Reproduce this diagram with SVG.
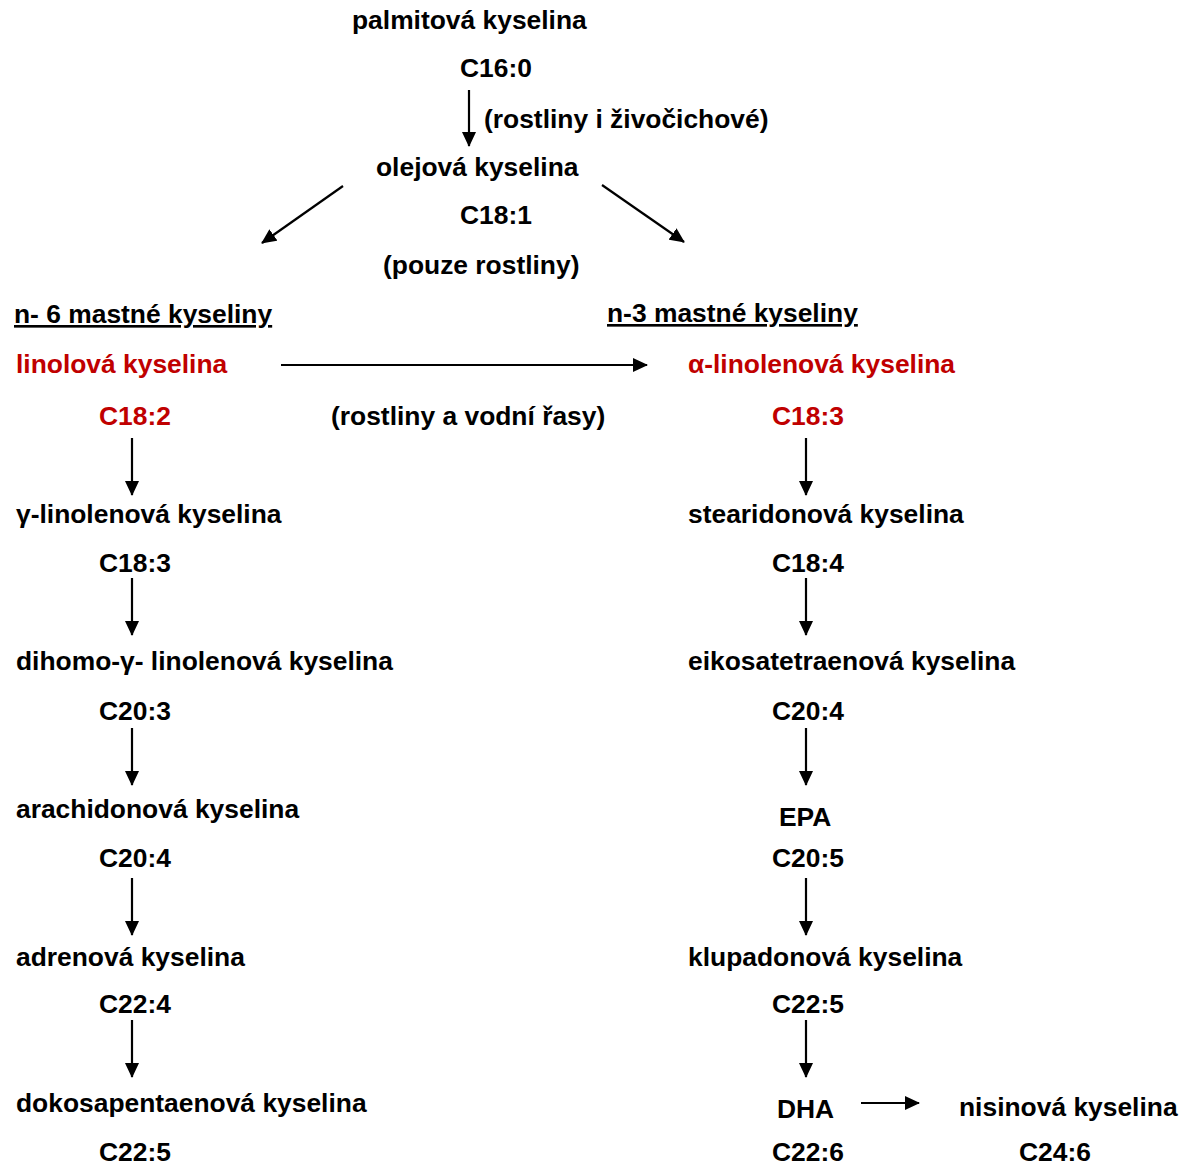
<svg xmlns="http://www.w3.org/2000/svg" width="1186" height="1165" viewBox="0 0 1186 1165">
<style>
text{font-family:"Liberation Sans",Arial,sans-serif;font-weight:bold;font-size:26.4px;fill:#000}
.red{fill:#c00000}
.ul{text-decoration:underline}
.c line{stroke:#000;stroke-width:2.2;marker-end:url(#ah)}
</style>
<defs>
<marker id="ah" markerUnits="userSpaceOnUse" markerWidth="16" markerHeight="14" refX="14" refY="7" orient="auto">
<path d="M0,0 L15,7 L0,14 Z" fill="#000"/>
</marker>
</defs>
<rect width="1186" height="1165" fill="#fff"/>
<g class="c" id="connectors">
<line x1="469" y1="90" x2="469" y2="146"/>
<line x1="343" y1="186" x2="262" y2="243"/>
<line x1="602" y1="185" x2="684" y2="242"/>
<line x1="281" y1="365" x2="647" y2="365"/>
<line x1="132" y1="438" x2="132" y2="495"/>
<line x1="806" y1="438" x2="806" y2="495"/>
<line x1="132" y1="578" x2="132" y2="635"/>
<line x1="806" y1="578" x2="806" y2="635"/>
<line x1="132" y1="728" x2="132" y2="785"/>
<line x1="806" y1="728" x2="806" y2="785"/>
<line x1="132" y1="878" x2="132" y2="935"/>
<line x1="806" y1="878" x2="806" y2="935"/>
<line x1="132" y1="1020" x2="132" y2="1077"/>
<line x1="806" y1="1020" x2="806" y2="1077"/>
<line x1="861" y1="1103" x2="919" y2="1103"/>
</g>
<g id="palmitova"><text x="352" y="29">palmitová kyselina</text><text x="460" y="77">C16:0</text></g>
<g id="label-rostliny-zivocichove"><text x="484" y="128">(rostliny i živočichové)</text></g>
<g id="olejova"><text x="376" y="176">olejová kyselina</text><text x="460" y="224">C18:1</text></g>
<g id="label-pouze"><text x="383" y="274">(pouze rostliny)</text></g>
<g id="n6-header"><text class="ul" x="14" y="323">n- 6 mastné kyseliny</text></g>
<g id="n3-header"><text class="ul" x="607" y="322">n-3 mastné kyseliny</text></g>
<g id="linolova"><text class="red" x="16" y="373">linolová kyselina</text><text class="red" x="99" y="425">C18:2</text></g>
<g id="label-rasy"><text x="331" y="425">(rostliny a vodní řasy)</text></g>
<g id="alfa-linolenova"><text class="red" x="688" y="373">α-linolenová kyselina</text><text class="red" x="772" y="425">C18:3</text></g>
<g id="gama-linolenova"><text x="16" y="523">γ-linolenová kyselina</text><text x="99" y="572">C18:3</text></g>
<g id="stearidonova"><text x="688" y="523">stearidonová kyselina</text><text x="772" y="572">C18:4</text></g>
<g id="dihomo"><text x="16" y="670">dihomo-γ- linolenová kyselina</text><text x="99" y="720">C20:3</text></g>
<g id="eikosatetraenova"><text x="688" y="670">eikosatetraenová kyselina</text><text x="772" y="720">C20:4</text></g>
<g id="arachidonova"><text x="16" y="818">arachidonová kyselina</text><text x="99" y="867">C20:4</text></g>
<g id="epa"><text x="779" y="826">EPA</text><text x="772" y="867">C20:5</text></g>
<g id="adrenova"><text x="16" y="966">adrenová kyselina</text><text x="99" y="1013">C22:4</text></g>
<g id="klupadonova"><text x="688" y="966">klupadonová kyselina</text><text x="772" y="1013">C22:5</text></g>
<g id="dokosapentaenova"><text x="16" y="1112">dokosapentaenová kyselina</text><text x="99" y="1161">C22:5</text></g>
<g id="dha"><text x="777" y="1118">DHA</text><text x="772" y="1161">C22:6</text></g>
<g id="nisinova"><text x="959" y="1116">nisinová kyselina</text><text x="1019" y="1161">C24:6</text></g>
</svg>
